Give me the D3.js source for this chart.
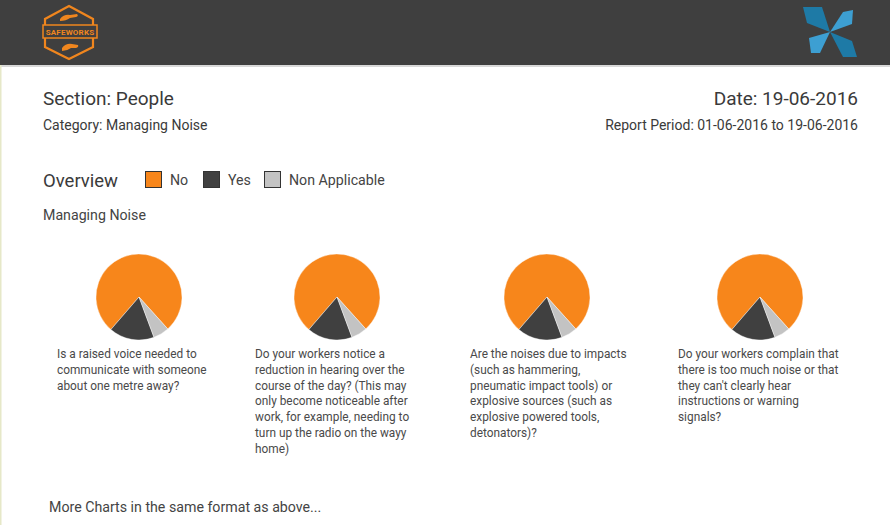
<!DOCTYPE html>
<html><head><meta charset="utf-8">
<script src="https://cdn.jsdelivr.net/npm/d3@7"></script>
<style>
html,body{margin:0;padding:0;background:#fff;}
svg{display:block;font-family:Roboto,"Noto Sans",sans-serif;}
</style></head>
<body><svg id="chart" width="890" height="525"></svg>
<script>
// ---- data ----
const categories = ["No", "Yes", "Non Applicable"];
const colors = ["#F7861B", "#404040", "#C3C3C3"];
const noValues = [77, 77, 77, 77];
const yesValues = [17, 17, 17, 17];
const naValues = [6, 6, 6, 6];
const questions = [
  ["Is a raised voice needed to", "communicate with someone", "about one metre away?"],
  ["Do your workers notice a", "reduction in hearing over the", "course of the day? (This may", "only become noticeable after", "work, for example, needing to", "turn up the radio on the wayy", "home)"],
  ["Are the noises due to impacts", "(such as hammering,", "pneumatic impact tools) or", "explosive sources (such as", "explosive powered tools,", "detonators)?"],
  ["Do your workers complain that", "there is too much noise or that", "they can't clearly hear", "instructions or warning", "signals?"]
];
const section = "Section: People";
const category = "Category: Managing Noise";
const dateText = "Date: 19-06-2016";
const period = "Report Period: 01-06-2016 to 19-06-2016";

const svg = d3.select("#chart");
const W = 890, H = 525;

// header
svg.append("rect").attr("x",0).attr("y",0).attr("width",W).attr("height",65).attr("fill","#3f3f3f");
svg.append("rect").attr("x",0).attr("y",65).attr("width",W).attr("height",2).attr("fill","#d8d8d8");
svg.append("rect").attr("x",0).attr("y",65).attr("width",1.5).attr("height",H-65).attr("fill","#e6e8c8");

// left logo
const lg = svg.append("g");
const OR = "#F0861E";
lg.append("path").attr("d","M69,6 L93,19 L93,47 L69,59 L45,47 L45,19 Z")
  .attr("fill","none").attr("stroke",OR).attr("stroke-width",2.2);
lg.append("rect").attr("x",43).attr("y",25).attr("width",54).attr("height",13)
  .attr("fill","#3f3f3f").attr("stroke",OR).attr("stroke-width",1.5);
lg.append("text").attr("x",70).attr("y",34.5).attr("text-anchor","middle")
  .attr("font-size",8).attr("font-weight","bold").attr("fill",OR).attr("letter-spacing",0.2).text("SAFEWORKS");
lg.append("path").attr("d","M60,19 Q64,14 70,15 L77,14 Q79,16 76,17 L70,18 Q66,21 60,21 Z").attr("fill",OR);
lg.append("path").attr("d","M62,48 Q66,43 72,44 L78,45 Q79,47 76,48 L71,48 Q67,51 62,51 Z").attr("fill",OR);

// right logo
const rl = svg.append("g");
[["M803,7 L822,7 L830,32 L807,23 Z","#1e7aa6"],
 ["M830,32 L843,12 L853,10 L852,24 Z","#3d9fd2"],
 ["M830,32 L809,38 L811,53 L820,53 Z","#3d9fd2"],
 ["M830,32 L852,41 L857,57 L843,57 Z","#1e7aa6"]].forEach(([d,c]) =>
  rl.append("path").attr("d",d).attr("fill",c));

// titles
const TC = "#3a3a3a";
svg.append("text").attr("x",43).attr("y",105).attr("font-size",19).attr("fill",TC).text(section);
svg.append("text").attr("x",43).attr("y",130).attr("font-size",14).attr("fill",TC).text(category);
svg.append("text").attr("x",858).attr("y",105).attr("font-size",19).attr("fill",TC).attr("text-anchor","end").text(dateText);
svg.append("text").attr("x",858).attr("y",130).attr("font-size",14).attr("fill",TC).attr("text-anchor","end").text(period);

// legend
svg.append("text").attr("x",43).attr("y",187).attr("font-size",18.5).attr("fill",TC).text("Overview");
const legX = [145, 203, 264];
categories.forEach((c,i) => {
  svg.append("rect").attr("x",legX[i]+0.5).attr("y",171.5).attr("width",16).attr("height",16)
    .attr("fill",colors[i]).attr("stroke","#333").attr("stroke-width",1);
  svg.append("text").attr("x",legX[i]+25).attr("y",185).attr("font-size",14.2).attr("fill","#444").text(c);
});
svg.append("text").attr("x",43).attr("y",220).attr("font-size",14.2).attr("fill","#444").text("Managing Noise");

// pies
const centersX = [139, 337, 547, 760];
const cy = 297, R = 43;
const color = d3.scaleOrdinal().domain(categories).range(colors);
const start = 138 * Math.PI / 180;
const pie = d3.pie().sort(null).value(d => d.v).startAngle(start).endAngle(start - 2*Math.PI);
const arc = d3.arc().innerRadius(0).outerRadius(R);
const textX = [57, 255, 470, 678];

questions.forEach((q,i) => {
  const data = [
    {k: categories[0], v: noValues[i]},
    {k: categories[1], v: yesValues[i]},
    {k: categories[2], v: naValues[i]}
  ];
  const g = svg.append("g").attr("transform",`translate(${centersX[i]},${cy})`);
  g.selectAll("path").data(pie(data)).join("path")
    .attr("d",arc).attr("fill",d => color(d.data.k))
    .attr("stroke","#fff").attr("stroke-width",0.4);
  const t = svg.append("text").attr("font-size",11.85).attr("fill","#4a4a4a");
  q.forEach((line,j) => {
    t.append("tspan").attr("x",textX[i]).attr("y",358 + j*15.8).text(line);
  });
});

svg.append("text").attr("x",49).attr("y",512).attr("font-size",14.2).attr("fill","#444")
  .text("More Charts in the same format as above...");
</script></body></html>
